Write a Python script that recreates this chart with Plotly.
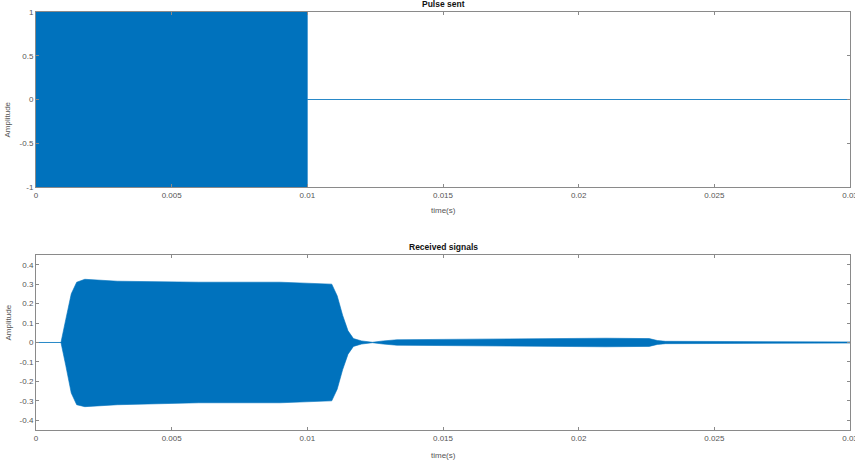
import plotly.graph_objects as go

# ---- data (envelopes) ----
sent_t = [0.0, 0.01, 0.01, 0.03]
sent_env = [1.0, 1.0, 0.0, 0.0]

recv_t = [0.0, 0.00092, 0.0011, 0.0013, 0.0015, 0.0018, 0.003, 0.006, 0.009,
          0.0109, 0.0111, 0.0113, 0.0115, 0.0117, 0.012, 0.0124, 0.0128,
          0.0133, 0.015, 0.018, 0.021, 0.0226, 0.0229, 0.0232, 0.025, 0.028, 0.03]
recv_up = [0.0, 0.0, 0.12, 0.25, 0.31, 0.325, 0.315, 0.31, 0.31,
           0.30, 0.24, 0.14, 0.06, 0.02, 0.008, 0.001, 0.008,
           0.014, 0.016, 0.02, 0.022, 0.02, 0.01, 0.006, 0.005, 0.004, 0.003]
recv_lo = [0.0, 0.0, -0.12, -0.26, -0.32, -0.33, -0.32, -0.31, -0.31,
           -0.30, -0.24, -0.14, -0.06, -0.02, -0.008, -0.001, -0.008,
           -0.014, -0.016, -0.02, -0.022, -0.02, -0.01, -0.006, -0.005, -0.004, -0.003]

x_ticks = [0, 0.005, 0.01, 0.015, 0.02, 0.025, 0.03]
x_ticklabels = ["0", "0.005", "0.01", "0.015", "0.02", "0.025", "0.03"]
top_yticks = [-1, -0.5, 0, 0.5, 1]
top_yticklabels = ["-1", "-0.5", "0", "0.5", "1"]
bot_yticks = [-0.4, -0.3, -0.2, -0.1, 0, 0.1, 0.2, 0.3, 0.4]
bot_yticklabels = ["-0.4", "-0.3", "-0.2", "-0.1", "0", "0.1", "0.2", "0.3", "0.4"]

BLUE = "#0072BD"
FONT = "Liberation Sans"

fig = go.Figure()

# top: pulse sent
fig.add_trace(go.Scatter(
    x=sent_t + sent_t[::-1], y=sent_env + [-v for v in sent_env[::-1]],
    fill="toself", fillcolor=BLUE, mode="lines",
    line=dict(color=BLUE, width=0.6), xaxis="x", yaxis="y", hoverinfo="skip"))

# bottom: received
fig.add_trace(go.Scatter(
    x=recv_t + recv_t[::-1], y=recv_up + recv_lo[::-1],
    fill="toself", fillcolor=BLUE, mode="lines",
    line=dict(color=BLUE, width=0.6), xaxis="x2", yaxis="y2", hoverinfo="skip"))

axcommon = dict(showgrid=False, zeroline=False, showline=True, linecolor="#8a8a8a",
                linewidth=1, mirror="ticks", ticks="inside", ticklen=3,
                tickcolor="#8a8a8a", ticklabeloverflow="allow", automargin=False,
                tickfont=dict(family=FONT, size=8, color="#555555"))

XR = [0, 0.0300001]

fig.update_layout(
    width=855, height=466,
    margin=dict(l=36, r=5, t=12, b=36, autoexpand=False),
    plot_bgcolor="white", paper_bgcolor="white", showlegend=False,
    xaxis=dict(domain=[0, 1], range=XR, anchor="y", tickvals=x_ticks,
               ticktext=x_ticklabels, **axcommon),
    yaxis=dict(domain=[0.5813, 1], range=[-1, 1], anchor="x", tickvals=top_yticks,
               ticktext=top_yticklabels, **axcommon),
    xaxis2=dict(domain=[0, 1], range=XR, anchor="y2", tickvals=x_ticks,
                ticktext=x_ticklabels, **axcommon),
    yaxis2=dict(domain=[0, 0.4187], range=[-0.45, 0.45], anchor="x2", tickvals=bot_yticks,
                ticktext=bot_yticklabels, **axcommon),
    annotations=[
        dict(text="<b>Pulse sent</b>", x=0.5, y=1, xref="paper", yref="paper",
             yanchor="bottom", yshift=1, showarrow=False, font=dict(family=FONT, size=8.5, color="#111")),
        dict(text="<b>Received signals</b>", x=0.5, y=0.4187, xref="paper", yref="paper",
             yanchor="bottom", yshift=1, showarrow=False, font=dict(family=FONT, size=8.5, color="#111")),
        dict(text="time(s)", x=0.5, y=0.5813, xref="paper", yref="paper",
             yanchor="top", yshift=-17, showarrow=False, font=dict(family=FONT, size=8, color="#555")),
        dict(text="time(s)", x=0.5, y=0, xref="paper", yref="paper",
             yanchor="top", yshift=-19, showarrow=False, font=dict(family=FONT, size=8, color="#555")),
        dict(text="Amplitude", x=0, y=0.7906, xref="paper", yref="paper", xanchor="center",
             xshift=-28, textangle=-90, showarrow=False, font=dict(family=FONT, size=8, color="#555")),
        dict(text="Amplitude", x=0, y=0.2094, xref="paper", yref="paper", xanchor="center",
             xshift=-28, textangle=-90, showarrow=False, font=dict(family=FONT, size=8, color="#555")),
    ],
)

fig.write_html("out.html")
